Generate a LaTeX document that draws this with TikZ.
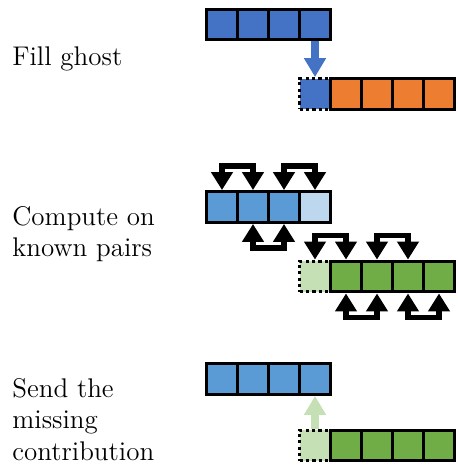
\documentclass[tikz,border=0pt]{standalone}
\usetikzlibrary{arrows.meta}
\definecolor{darkblue}{HTML}{4472C4}
\definecolor{midblue}{HTML}{5B9BD5}
\definecolor{paleblue}{HTML}{BDD7EE}
\definecolor{boxorange}{HTML}{ED7D31}
\definecolor{boxgreen}{HTML}{70AD47}
\definecolor{palegreen}{HTML}{C5E0B4}
\begin{document}
\begin{tikzpicture}[x=0.5pt, y=-0.5pt,
  cell/.style={rectangle, draw=black, line width=1.7pt, minimum width=15.5pt,
               minimum height=15.25pt, inner sep=0pt},
  ghost/.style={cell, dash pattern=on 1.6pt off 1.6pt},
  phase/.style={anchor=base west, inner sep=0pt, align=left,
                font=\fontsize{13.5}{15.7}\selectfont},
  move/.style={line width=4.2pt, -{Triangle[width=10.5pt, length=9.5pt]}},
  pair/.style={line width=2.6pt,
               {Triangle[width=10.5pt, length=9pt]}-{Triangle[width=10.5pt, length=9pt]}}
]
  \useasboundingbox (0,0) rectangle (457,465);

  % Fill ghost
  \node[phase] (fill) at (12,66) {Fill ghost};
  \foreach \i in {1,...,4}
    \node[cell, fill=darkblue] (fa\i) at ({191+31*\i},24.5) {};
  \node[ghost, fill=darkblue] (fg0) at (315,94) {};
  \foreach \i in {1,...,4}
    \node[cell, fill=boxorange] (fo\i) at ({315+31*\i},94) {};
  \draw[move, darkblue] (fa4.south) -- (fg0.north);

  % Compute on known pairs
  \node[phase] (compute) at (12,256.7) {Compute on\\known pairs};
  \foreach \i in {1,2,3}
    \node[cell, fill=midblue] (ca\i) at ({191+31*\i},207) {};
  \node[cell, fill=paleblue] (ca4) at (315,207) {};
  \node[ghost, fill=palegreen] (cg0) at (315,276.5) {};
  \foreach \i in {1,...,4}
    \node[cell, fill=boxgreen] (cg\i) at ({315+31*\i},276.5) {};
  \draw[pair] (ca1.north) -- ++(0,-24) -| (ca2.north);
  \draw[pair] (ca3.north) -- ++(0,-24) -| (ca4.north);
  \draw[pair] (ca2.south) -- ++(0,24) -| (ca3.south);
  \draw[pair] (cg0.north) -- ++(0,-24) -| (cg1.north);
  \draw[pair] (cg2.north) -- ++(0,-24) -| (cg3.north);
  \draw[pair] (cg1.south) -- ++(0,24) -| (cg2.south);
  \draw[pair] (cg3.south) -- ++(0,24) -| (cg4.south);

  % Send the missing contribution
  \node[phase] (send) at (12,460) {Send the\\missing\\contribution};
  \foreach \i in {1,...,4}
    \node[cell, fill=midblue] (sa\i) at ({191+31*\i},379) {};
  \node[ghost, fill=palegreen] (sg0) at (315,445.5) {};
  \foreach \i in {1,...,4}
    \node[cell, fill=boxgreen] (sg\i) at ({315+31*\i},445.5) {};
  \draw[move, palegreen] (sg0.north) -- (sa4.south);
\end{tikzpicture}
\end{document}
